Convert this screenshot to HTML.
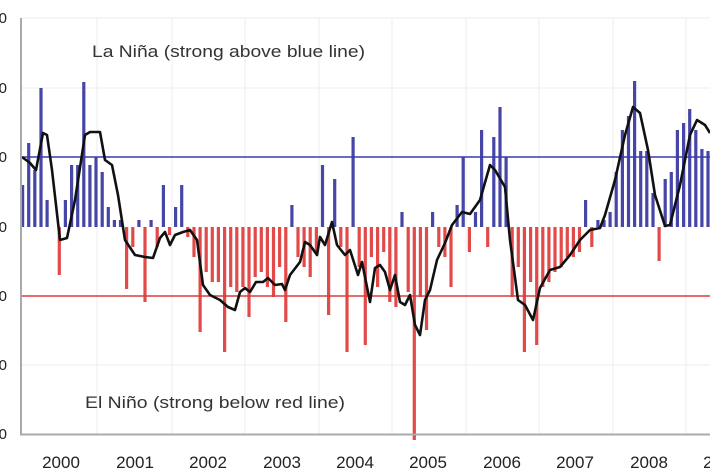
<!DOCTYPE html>
<html><head><meta charset="utf-8"><style>
html,body{margin:0;padding:0;background:#fff;width:710px;height:473px;overflow:hidden}
svg text{font-family:"Liberation Sans",sans-serif}
</style></head><body>
<svg id="c" width="710" height="473" xmlns="http://www.w3.org/2000/svg">
<rect width="710" height="473" fill="#fff"/>
<g stroke="#ececec" stroke-width="1">
<line x1="21" y1="18" x2="710" y2="18"/><line x1="21" y1="88" x2="710" y2="88"/>
<line x1="21" y1="365" x2="710" y2="365"/>
<line x1="97" y1="18" x2="97" y2="434"/><line x1="172" y1="18" x2="172" y2="434"/>
<line x1="245" y1="18" x2="245" y2="434"/><line x1="319" y1="18" x2="319" y2="434"/>
<line x1="392" y1="18" x2="392" y2="434"/><line x1="466" y1="18" x2="466" y2="434"/>
<line x1="539" y1="18" x2="539" y2="434"/><line x1="613" y1="18" x2="613" y2="434"/>
<line x1="686" y1="18" x2="686" y2="434"/>
</g>
<g id="bars"></g>
<line x1="21" y1="157" x2="710" y2="157" stroke="#3a3aae" stroke-width="1.5"/>
<line x1="21" y1="296" x2="710" y2="296" stroke="#e03a3a" stroke-width="1.5"/>
<polyline id="ln" fill="none" stroke="#111" stroke-width="2.6" stroke-linejoin="round" points="22,157 30,163 36,170 43,133 47,135 52,170 60,240 67,238 75,200 85,135 90,132 100,132 105,160 112,165 118,195 125,240 135,255 145,257 153,258 160,238 165,232 170,245 175,235 183,232 190,230 197,240 203,285 210,295 220,300 228,307 235,310 240,292 245,288 250,292 256,282 263,282 268,278 275,285 282,284 285,290 290,275 300,262 305,242 310,245 317,255 320,237 325,245 332,222 337,245 345,255 350,250 358,275 362,262 370,302 375,268 380,265 385,272 390,290 395,275 400,302 405,305 410,295 415,325 420,335 425,300 430,290 437,260 445,243 452,225 462,212 470,214 480,200 490,165 495,170 505,187 510,240 518,300 525,305 533,320 540,288 550,270 560,267 570,255 580,240 590,230 600,228 605,215 615,180 625,135 633,107 640,113 648,150 655,195 665,226 670,225 680,185 690,135 697,120 705,125 710,133"/>
<line x1="21" y1="18" x2="21" y2="435" stroke="#aaa" stroke-width="2"/>
<line x1="20" y1="434.5" x2="710" y2="434.5" stroke="#aaa" stroke-width="2"/>
<g font-size="15" fill="#222" text-anchor="end">
<text x="7" y="23">0</text><text x="7" y="93">0</text><text x="7" y="162">0</text><text x="7" y="232">0</text><text x="7" y="301">0</text><text x="7" y="370">0</text><text x="7" y="439">0</text>
</g>
<g font-size="17" fill="#222" text-anchor="middle">
<text x="61" y="468">2000</text><text x="135" y="468">2001</text><text x="208" y="468">2002</text><text x="282" y="468">2003</text><text x="355" y="468">2004</text><text x="428" y="468">2005</text><text x="502" y="468">2006</text><text x="575" y="468">2007</text><text x="649" y="468">2008</text><text x="722" y="468">2009</text>
</g>
<text x="92" y="57" font-size="17" fill="#333" textLength="273" lengthAdjust="spacingAndGlyphs">La Niña (strong above blue line)</text>
<text x="85" y="408" font-size="17" fill="#333" textLength="260" lengthAdjust="spacingAndGlyphs">El Niño (strong below  red line)</text>
</svg>
<script>
var v=[42,84,57,139,27,0,-48,27,62,62,145,62,70,55,20,7,7,-62,-20,7,-75,7,-20,42,-8,20,42,-10,-30,-105,-45,-55,-55,-125,-60,-65,-60,-90,-50,-45,-60,-70,-40,-95,22,-30,-40,-50,-25,62,-88,48,-20,-125,90,-40,-118,-30,-60,-25,-75,-80,15,-65,-213,-70,-103,15,-20,-30,-60,22,70,-25,15,97,-20,90,120,70,-70,-40,-125,-55,-118,-60,-55,-45,-40,-30,-30,-25,27,-20,7,7,15,55,97,111,146,76,76,34,-34,48,55,97,104,118,97,78,76];
var g=document.getElementById('bars'),s='';
for(var i=0;i<v.length;i++){var x=21+i*6.12,h=v[i];if(h==0)continue;
var y=h>0?227-h:227;s+='<rect x="'+x.toFixed(1)+'" y="'+y+'" width="3.2" height="'+Math.abs(h)+'" fill="'+(h>0?'#4646a6':'#e24a4a')+'"/>';}
g.innerHTML=s;
</script>
</body></html>
